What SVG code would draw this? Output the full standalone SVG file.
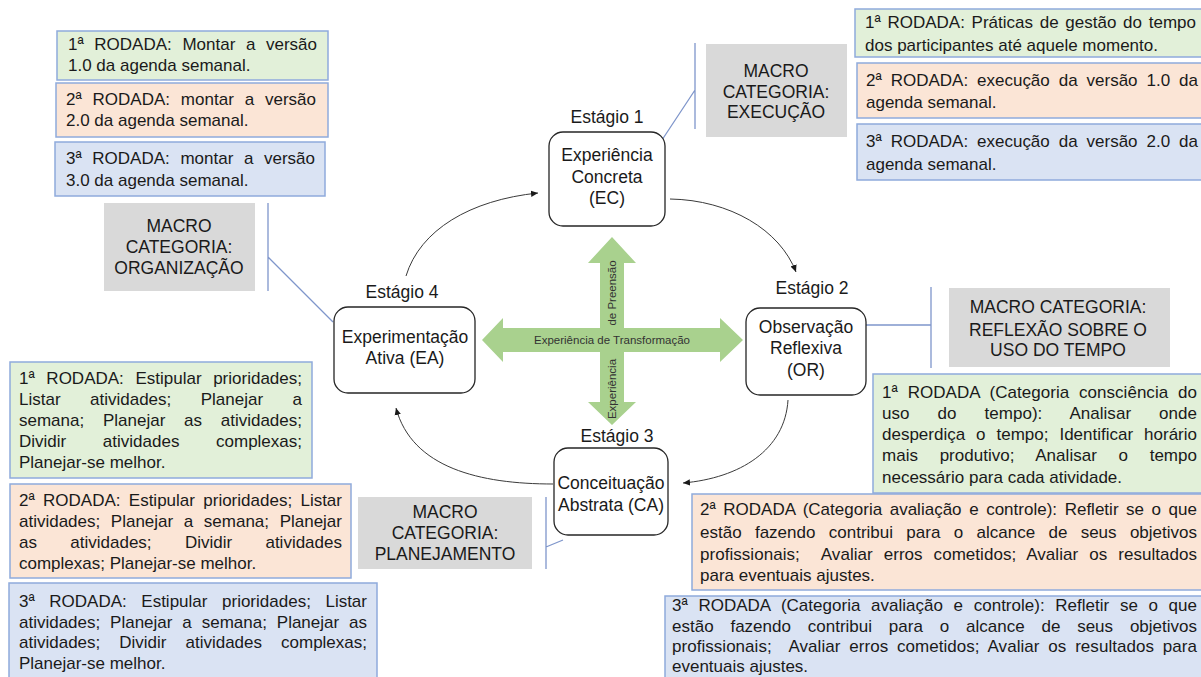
<svg xmlns="http://www.w3.org/2000/svg" width="1201" height="677" viewBox="0 0 1201 677">
<defs>
<style>
.t{font-family:"Liberation Sans",Arial,sans-serif;font-size:17px;fill:#1a1a1a}
.m{font-family:"Liberation Sans",Arial,sans-serif;font-size:17.5px;fill:#1a1a1a;text-anchor:middle}
.s{font-family:"Liberation Sans",Arial,sans-serif;font-size:11.5px;fill:#333;text-anchor:middle}
.gr{fill:#E2F0D9;stroke:#8FAADC;stroke-width:1.5}
.or{fill:#FBE5D6;stroke:#8FAADC;stroke-width:1.5}
.bl{fill:#DAE3F3;stroke:#8FAADC;stroke-width:1.5}
.gy{fill:#D9D9D9}
.st{fill:#fff;stroke:#262626;stroke-width:1.3}
.arc{fill:none;stroke:#3a3a3a;stroke-width:1}
.brk{fill:none;stroke:#7F96CB;stroke-width:1.3}
</style>
<marker id="ah" markerWidth="8" markerHeight="8" refX="7" refY="4" orient="auto" markerUnits="userSpaceOnUse">
<path d="M0,0.8 L7,4 L0,7.2 Z" fill="#1a1a1a"/>
</marker>
</defs>
<rect width="1201" height="677" fill="#fff"/>

<g id="connectors">
<path class="arc" d="M406,276 C420,230 470,200 538,193" marker-end="url(#ah)"/>
<path class="arc" d="M670,199 C730,200 780,230 796,272" marker-end="url(#ah)"/>
<path class="arc" d="M788,400 C785,450 740,478 683,483" marker-end="url(#ah)"/>
<path class="arc" d="M553,484 C480,484 412,468 396,408" marker-end="url(#ah)"/>
<path class="brk" d="M695,43 V129 M695,90 L660,143"/>
<path class="brk" d="M268,203 V291 M268,257 L333,322"/>
<path class="brk" d="M931,287 V368 M866,325 H931"/>
<path class="brk" d="M546,497 V569 M546,547 L563,540"/>
</g>

<g id="cross">
<polygon fill="#A9D18E" points="612,237 636,263 624,263 624,328 720,328 720,318 743,340 720,362 720,352 624,352 624,402 636,402 612,425 588,402 600,402 600,352 503,352 503,362 482,340 503,318 503,328 600,328 600,263 588,263"/>
<text class="s" x="612" y="344">Experiência de Transformação</text>
<text class="s" x="616" y="293" transform="rotate(-90 616 293)">de Preensão</text>
<text class="s" x="616" y="389" transform="rotate(-90 616 389)">Experiência</text>
</g>

<g id="stage1">
<text class="m" x="607" y="123">Estágio 1</text>
<rect class="st" x="549" y="132" width="116" height="94" rx="14"/>
<text class="m" x="607" y="161">Experiência</text>
<text class="m" x="607" y="183">Concreta</text>
<text class="m" x="607" y="204">(EC)</text>
</g>
<g id="stage2">
<text class="m" x="812" y="294">Estágio 2</text>
<rect class="st" x="746" y="308" width="120" height="87" rx="14"/>
<text class="m" x="806" y="333">Observação</text>
<text class="m" x="806" y="354">Reflexiva</text>
<text class="m" x="806" y="376">(OR)</text>
</g>
<g id="stage3">
<text class="m" x="617" y="442">Estágio 3</text>
<rect class="st" x="554" y="448" width="114" height="87" rx="14"/>
<text class="m" x="611" y="489">Conceituação</text>
<text class="m" x="611" y="511">Abstrata (CA)</text>
</g>
<g id="stage4">
<text class="m" x="402" y="298">Estágio 4</text>
<rect class="st" x="334" y="307" width="141" height="86" rx="14"/>
<text class="m" x="405" y="343">Experimentação</text>
<text class="m" x="405" y="364">Ativa (EA)</text>
</g>

<g id="macro-execucao">
<rect class="gy" x="706" y="44" width="141" height="93"/>
<text class="m" x="776" y="77">MACRO</text>
<text class="m" x="776" y="98">CATEGORIA:</text>
<text class="m" x="776" y="118">EXECUÇÃO</text>
</g>
<g id="macro-organizacao">
<rect class="gy" x="104" y="203" width="151" height="88"/>
<text class="m" x="179" y="232">MACRO</text>
<text class="m" x="179" y="253">CATEGORIA:</text>
<text class="m" x="179" y="274">ORGANIZAÇÃO</text>
</g>
<g id="macro-reflexao">
<rect class="gy" x="949" y="288" width="221" height="79"/>
<text class="m" x="1058" y="313">MACRO CATEGORIA:</text>
<text class="m" x="1058" y="336">REFLEXÃO SOBRE O</text>
<text class="m" x="1058" y="356">USO DO TEMPO</text>
</g>
<g id="macro-planejamento">
<rect class="gy" x="358" y="497" width="174" height="72"/>
<text class="m" x="445" y="518">MACRO</text>
<text class="m" x="445" y="539">CATEGORIA:</text>
<text class="m" x="445" y="560">PLANEJAMENTO</text>
</g>

<g id="org-r1">
<rect class="gr" x="57" y="31" width="271" height="49"/>
<text class="t" x="68" y="50" word-spacing="5.9" textLength="249" lengthAdjust="spacing">1ª RODADA: Montar a versão</text>
<text class="t" x="68" y="71">1.0 da agenda semanal.</text>
</g>
<g id="org-r2">
<rect class="or" x="56" y="83" width="272" height="54"/>
<text class="t" x="66" y="105" word-spacing="6.1" textLength="250" lengthAdjust="spacing">2ª RODADA: montar a versão</text>
<text class="t" x="66" y="126">2.0 da agenda semanal.</text>
</g>
<g id="org-r3">
<rect class="bl" x="55" y="142" width="270" height="54"/>
<text class="t" x="66" y="164" word-spacing="5.9" textLength="249" lengthAdjust="spacing">3ª RODADA: montar a versão</text>
<text class="t" x="66" y="186">3.0 da agenda semanal.</text>
</g>

<g id="exe-r1">
<rect class="gr" x="855" y="9" width="360" height="48"/>
<text class="t" x="865" y="28" word-spacing="2" textLength="331" lengthAdjust="spacing">1ª RODADA: Práticas de gestão do tempo</text>
<text class="t" x="865" y="51">dos participantes até aquele momento.</text>
</g>
<g id="exe-r2">
<rect class="or" x="857" y="63" width="360" height="55"/>
<text class="t" x="866" y="86" word-spacing="4.2" textLength="332" lengthAdjust="spacing">2ª RODADA: execução da versão 1.0 da</text>
<text class="t" x="866" y="108">agenda semanal.</text>
</g>
<g id="exe-r3">
<rect class="bl" x="857" y="124" width="360" height="56"/>
<text class="t" x="866" y="147" word-spacing="4.2" textLength="332" lengthAdjust="spacing">3ª RODADA: execução da versão 2.0 da</text>
<text class="t" x="866" y="170">agenda semanal.</text>
</g>

<g id="plan-r1">
<rect class="gr" x="10" y="362" width="302" height="116"/>
<text class="t" x="19" y="384" word-spacing="6.9" textLength="283" lengthAdjust="spacing">1ª RODADA: Estipular prioridades;</text>
<text class="t" x="19" y="405" word-spacing="24.7" textLength="283" lengthAdjust="spacing">Listar atividades; Planejar a</text>
<text class="t" x="19" y="426" word-spacing="14" textLength="283" lengthAdjust="spacing">semana; Planejar as atividades;</text>
<text class="t" x="19" y="447" word-spacing="31.9" textLength="283" lengthAdjust="spacing">Dividir atividades complexas;</text>
<text class="t" x="19" y="468">Planejar-se melhor.</text>
</g>
<g id="plan-r2">
<rect class="or" x="10" y="484" width="341" height="94"/>
<text class="t" x="19" y="506" word-spacing="3.6" textLength="323" lengthAdjust="spacing">2ª RODADA: Estipular prioridades; Listar</text>
<text class="t" x="19" y="527" word-spacing="5.9" textLength="323" lengthAdjust="spacing">atividades; Planejar a semana; Planejar</text>
<text class="t" x="19" y="548" word-spacing="28.6" textLength="323" lengthAdjust="spacing">as atividades; Dividir atividades</text>
<text class="t" x="19" y="569">complexas; Planejar-se melhor.</text>
</g>
<g id="plan-r3">
<rect class="bl" x="9" y="583" width="368" height="110"/>
<text class="t" x="19" y="607" word-spacing="9.85" textLength="348" lengthAdjust="spacing">3ª RODADA: Estipular prioridades; Listar</text>
<text class="t" x="19" y="628" word-spacing="5.2" textLength="348" lengthAdjust="spacing">atividades; Planejar a semana; Planejar as</text>
<text class="t" x="19" y="648" word-spacing="14.3" textLength="348" lengthAdjust="spacing">atividades; Dividir atividades complexas;</text>
<text class="t" x="19" y="669">Planejar-se melhor.</text>
</g>

<g id="ref-r1">
<rect class="gr" x="873" y="374" width="340" height="119"/>
<text class="t" x="882" y="398" word-spacing="5.1" textLength="315" lengthAdjust="spacing">1ª RODADA (Categoria consciência do</text>
<text class="t" x="882" y="419" word-spacing="23.2" textLength="315" lengthAdjust="spacing">uso do tempo): Analisar onde</text>
<text class="t" x="882" y="440" word-spacing="6.2" textLength="315" lengthAdjust="spacing">desperdiça o tempo; Identificar horário</text>
<text class="t" x="882" y="461" word-spacing="16.9" textLength="315" lengthAdjust="spacing">mais produtivo; Analisar o tempo</text>
<text class="t" x="882" y="483">necessário para cada atividade.</text>
</g>
<g id="ref-r2">
<rect class="or" x="692" y="494" width="520" height="96"/>
<text class="t" x="700" y="515" word-spacing="2.8" textLength="497" lengthAdjust="spacing">2ª RODADA (Categoria avaliação e controle): Refletir se o que</text>
<text class="t" x="700" y="538" word-spacing="8.6" textLength="497" lengthAdjust="spacing">estão fazendo contribui para o alcance de seus objetivos</text>
<text class="t" x="700" y="560" word-spacing="6.2" textLength="497" lengthAdjust="spacing" xml:space="preserve">profissionais;  Avaliar erros cometidos; Avaliar os resultados</text>
<text class="t" x="700" y="581">para eventuais ajustes.</text>
</g>
<g id="ref-r3">
<rect class="bl" x="665" y="596" width="547" height="95"/>
<text class="t" x="672" y="611" word-spacing="5.9" textLength="525" lengthAdjust="spacing">3ª RODADA (Categoria avaliação e controle): Refletir se o que</text>
<text class="t" x="672" y="632" word-spacing="12.1" textLength="525" lengthAdjust="spacing">estão fazendo contribui para o alcance de seus objetivos</text>
<text class="t" x="672" y="652" word-spacing="4.1" textLength="525" lengthAdjust="spacing" xml:space="preserve">profissionais;  Avaliar erros cometidos; Avaliar os resultados para</text>
<text class="t" x="672" y="672">eventuais ajustes.</text>
</g>
</svg>
